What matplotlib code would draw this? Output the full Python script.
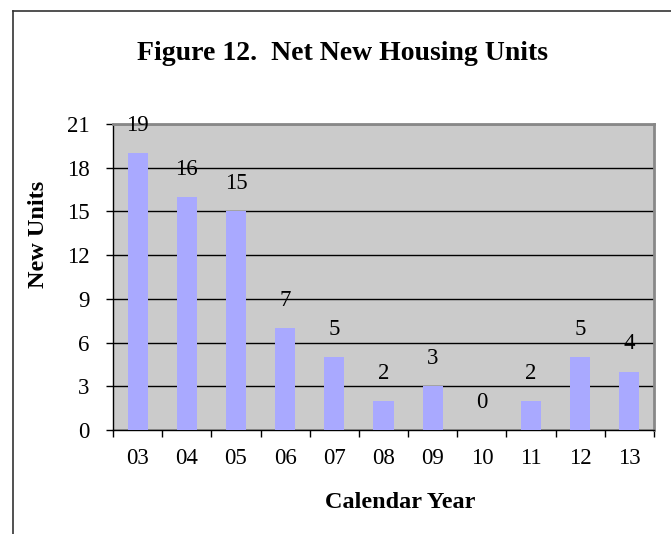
import matplotlib.pyplot as plt
from matplotlib.lines import Line2D

# data
years = ['03', '04', '05', '06', '07', '08', '09', '10', '11', '12', '13']
new_units = [19, 16, 15, 7, 5, 2, 3, 0, 2, 5, 4]
y_ticks = [0, 3, 6, 9, 12, 15, 18, 21]

plt.rcParams['font.family'] = ['Liberation Serif', 'DejaVu Serif']

W, H = 671, 534
fig = plt.figure(figsize=(W / 100, H / 100), dpi=100)
ax = fig.add_axes([113 / W, 1 - 430 / H, (654 - 113) / W, (430 - 124) / H])
ax.set_facecolor('#cbcbcb')

x = list(range(len(years)))
ax.bar(x, new_units, width=0.41, color='#a9a9ff', zorder=3)

for xi, v in zip(x, new_units):
    ax.annotate(str(v), (xi, v), xytext=(0, 20), textcoords='offset points',
                ha='center', va='center', fontsize=16.5, zorder=4)

ax.set_xlim(-0.5, len(years) - 0.5)
ax.set_ylim(0, 21)
ax.set_yticks(y_ticks)
ax.set_yticklabels([str(t) for t in y_ticks], fontsize=16.5)
ax.yaxis.grid(True, color='black', linewidth=1, zorder=1)
ax.set_axisbelow(True)

ax.set_xticks(x)
ax.set_xticklabels(years, fontsize=16.5)
ax.set_xticks([i - 0.5 for i in range(len(years) + 1)], minor=True)
ax.tick_params(axis='x', which='major', length=0, pad=13)
ax.tick_params(axis='x', which='minor', length=5, width=1, direction='out')
ax.tick_params(axis='y', length=5, width=1, direction='out', pad=12)

for s in ['top', 'right']:
    ax.spines[s].set_color('#888888')
    ax.spines[s].set_linewidth(2)
for s in ['left', 'bottom']:
    ax.spines[s].set_color('black')
    ax.spines[s].set_linewidth(1)

fig.text(39 / W, 1 - 234 / H, 'New Units', rotation=90, ha='center', va='center',
         fontsize=17.5, fontweight='bold')
fig.text(400 / W, 1 - 502 / H, 'Calendar Year', ha='center', va='center',
         fontsize=17.5, fontweight='bold')
fig.text(343 / W, 1 - 60 / H, 'Figure 12.  Net New Housing Units',
         ha='center', va='baseline', fontsize=20, fontweight='bold')

# outer chart border (cut off at right and bottom)
fig.add_artist(Line2D([12.5 / W, 12.5 / W], [0, 1 - 11 / H], color='#333333', linewidth=1.2))
fig.add_artist(Line2D([12.5 / W, 1], [1 - 11 / H, 1 - 11 / H], color='#333333', linewidth=1.2))

fig.savefig('out.png', dpi=100)
